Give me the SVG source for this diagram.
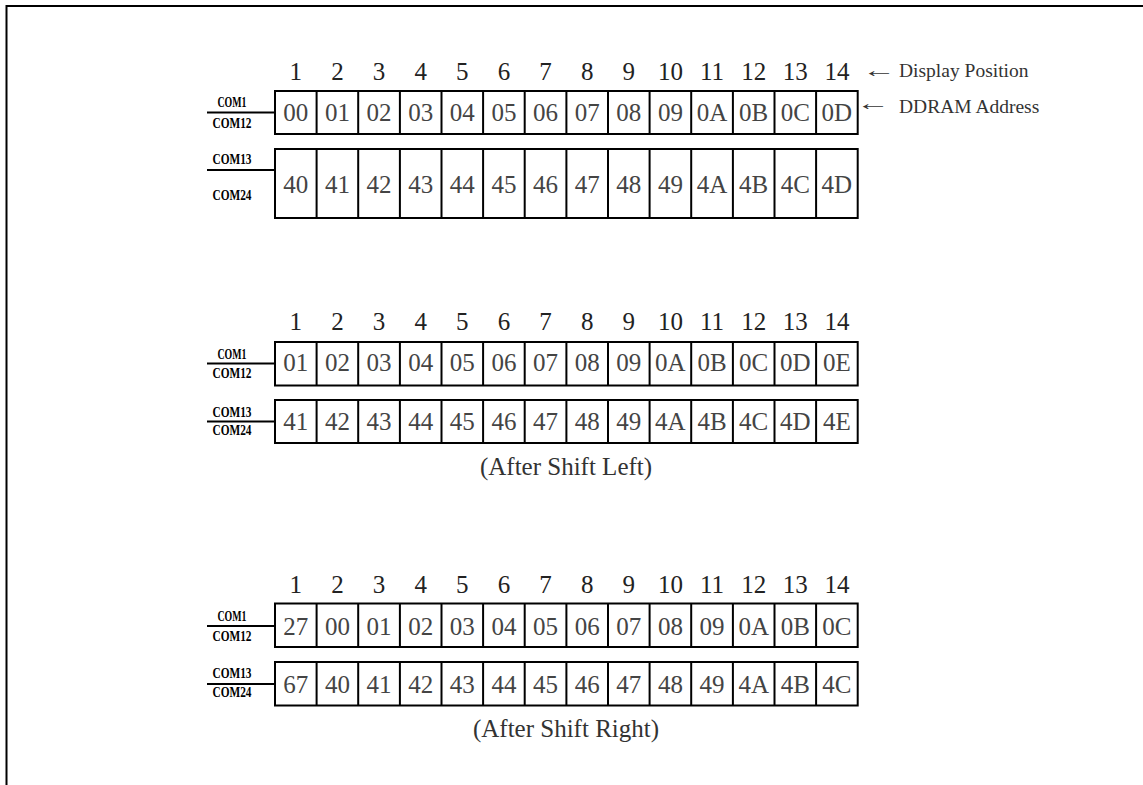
<svg xmlns="http://www.w3.org/2000/svg" width="1143" height="785" viewBox="0 0 1143 785">
<style>
.frame{stroke:#000;stroke-width:2;fill:none}
.cell{fill:#fff;stroke:#000;stroke-width:2}
.sep{stroke:#000;stroke-width:2}
.wire{stroke:#000;stroke-width:2}
.hdr{font-family:"Liberation Serif","Times New Roman",serif;font-size:25px;fill:#222;text-anchor:middle}
.val{font-family:"Liberation Serif","Times New Roman",serif;font-size:25px;fill:#444;text-anchor:middle}
.com{font-family:"Liberation Serif","Times New Roman",serif;font-size:15px;font-weight:bold;fill:#000;text-anchor:middle}
.note{font-family:"Liberation Serif","Times New Roman",serif;font-size:19.5px;fill:#333}
.arr{font-family:"Liberation Serif","Times New Roman",serif;font-size:20px;fill:#333}
.cap{font-family:"Liberation Serif","Times New Roman",serif;font-size:25px;fill:#333;text-anchor:middle}
</style>
<rect width="1143" height="785" fill="#fff"/>
<path class="frame" d="M6.5 785 V6 H1143"/>

<g id="connectors">
<line class="wire" x1="207" y1="112.5" x2="275" y2="112.5"/>
<line class="wire" x1="207" y1="170" x2="275" y2="170"/>
<line class="wire" x1="207" y1="363.5" x2="275" y2="363.5"/>
<line class="wire" x1="207" y1="421.5" x2="275" y2="421.5"/>
<line class="wire" x1="207" y1="626" x2="275" y2="626"/>
<line class="wire" x1="207" y1="684" x2="275" y2="684"/>
</g>

<!-- Section 1 -->
<g id="hdr1" class="hdr">
<text x="295.8" y="80">1</text><text x="337.4" y="80">2</text><text x="379.1" y="80">3</text><text x="420.7" y="80">4</text><text x="462.3" y="80">5</text><text x="503.9" y="80">6</text><text x="545.6" y="80">7</text><text x="587.2" y="80">8</text><text x="628.8" y="80">9</text><text x="670.4" y="80">10</text><text x="712.1" y="80">11</text><text x="753.7" y="80">12</text><text x="795.3" y="80">13</text><text x="836.9" y="80">14</text>
</g>
<g id="note-display">
<text class="arr" transform="translate(862,77) scale(1.7,1)">←</text>
<text class="note" x="899" y="77">Display Position</text>
</g>
<g id="note-ddram">
<text class="arr" transform="translate(856,110) scale(1.7,1)">←</text>
<text class="note" x="899" y="113">DDRAM Address</text>
</g>
<g id="label1a"><text class="com" x="232" y="107" textLength="29" lengthAdjust="spacingAndGlyphs">COM1</text><text class="com" x="232" y="128" textLength="39" lengthAdjust="spacingAndGlyphs">COM12</text></g>
<g id="label1b"><text class="com" x="232" y="164" textLength="39" lengthAdjust="spacingAndGlyphs">COM13</text><text class="com" x="232" y="200" textLength="39" lengthAdjust="spacingAndGlyphs">COM24</text></g>
<g id="row1a">
<rect class="cell" x="275" y="91" width="582.7" height="43"/>
<path class="sep" d="M316.6 91V134M358.2 91V134M399.9 91V134M441.5 91V134M483.1 91V134M524.7 91V134M566.4 91V134M608 91V134M649.6 91V134M691.2 91V134M732.9 91V134M774.5 91V134M816.1 91V134"/>
<g class="val"><text x="295.8" y="121">00</text><text x="337.4" y="121">01</text><text x="379.1" y="121">02</text><text x="420.7" y="121">03</text><text x="462.3" y="121">04</text><text x="503.9" y="121">05</text><text x="545.6" y="121">06</text><text x="587.2" y="121">07</text><text x="628.8" y="121">08</text><text x="670.4" y="121">09</text><text x="712.1" y="121">0A</text><text x="753.7" y="121">0B</text><text x="795.3" y="121">0C</text><text x="836.9" y="121">0D</text></g>
</g>
<g id="row1b">
<rect class="cell" x="275" y="149" width="582.7" height="69"/>
<path class="sep" d="M316.6 149V218M358.2 149V218M399.9 149V218M441.5 149V218M483.1 149V218M524.7 149V218M566.4 149V218M608 149V218M649.6 149V218M691.2 149V218M732.9 149V218M774.5 149V218M816.1 149V218"/>
<g class="val"><text x="295.8" y="192.5">40</text><text x="337.4" y="192.5">41</text><text x="379.1" y="192.5">42</text><text x="420.7" y="192.5">43</text><text x="462.3" y="192.5">44</text><text x="503.9" y="192.5">45</text><text x="545.6" y="192.5">46</text><text x="587.2" y="192.5">47</text><text x="628.8" y="192.5">48</text><text x="670.4" y="192.5">49</text><text x="712.1" y="192.5">4A</text><text x="753.7" y="192.5">4B</text><text x="795.3" y="192.5">4C</text><text x="836.9" y="192.5">4D</text></g>
</g>

<!-- Section 2 -->
<g id="hdr2" class="hdr">
<text x="295.8" y="330">1</text><text x="337.4" y="330">2</text><text x="379.1" y="330">3</text><text x="420.7" y="330">4</text><text x="462.3" y="330">5</text><text x="503.9" y="330">6</text><text x="545.6" y="330">7</text><text x="587.2" y="330">8</text><text x="628.8" y="330">9</text><text x="670.4" y="330">10</text><text x="712.1" y="330">11</text><text x="753.7" y="330">12</text><text x="795.3" y="330">13</text><text x="836.9" y="330">14</text>
</g>
<g id="label2a"><text class="com" x="232" y="359" textLength="29" lengthAdjust="spacingAndGlyphs">COM1</text><text class="com" x="232" y="378" textLength="39" lengthAdjust="spacingAndGlyphs">COM12</text></g>
<g id="label2b"><text class="com" x="232" y="417" textLength="39" lengthAdjust="spacingAndGlyphs">COM13</text><text class="com" x="232" y="435" textLength="39" lengthAdjust="spacingAndGlyphs">COM24</text></g>
<g id="row2a">
<rect class="cell" x="275" y="342" width="582.7" height="43.5"/>
<path class="sep" d="M316.6 342V385.5M358.2 342V385.5M399.9 342V385.5M441.5 342V385.5M483.1 342V385.5M524.7 342V385.5M566.4 342V385.5M608 342V385.5M649.6 342V385.5M691.2 342V385.5M732.9 342V385.5M774.5 342V385.5M816.1 342V385.5"/>
<g class="val"><text x="295.8" y="371">01</text><text x="337.4" y="371">02</text><text x="379.1" y="371">03</text><text x="420.7" y="371">04</text><text x="462.3" y="371">05</text><text x="503.9" y="371">06</text><text x="545.6" y="371">07</text><text x="587.2" y="371">08</text><text x="628.8" y="371">09</text><text x="670.4" y="371">0A</text><text x="712.1" y="371">0B</text><text x="753.7" y="371">0C</text><text x="795.3" y="371">0D</text><text x="836.9" y="371">0E</text></g>
</g>
<g id="row2b">
<rect class="cell" x="275" y="400" width="582.7" height="43"/>
<path class="sep" d="M316.6 400V443M358.2 400V443M399.9 400V443M441.5 400V443M483.1 400V443M524.7 400V443M566.4 400V443M608 400V443M649.6 400V443M691.2 400V443M732.9 400V443M774.5 400V443M816.1 400V443"/>
<g class="val"><text x="295.8" y="430">41</text><text x="337.4" y="430">42</text><text x="379.1" y="430">43</text><text x="420.7" y="430">44</text><text x="462.3" y="430">45</text><text x="503.9" y="430">46</text><text x="545.6" y="430">47</text><text x="587.2" y="430">48</text><text x="628.8" y="430">49</text><text x="670.4" y="430">4A</text><text x="712.1" y="430">4B</text><text x="753.7" y="430">4C</text><text x="795.3" y="430">4D</text><text x="836.9" y="430">4E</text></g>
</g>
<g id="caption-left"><text class="cap" x="566" y="475">(After Shift Left)</text></g>

<!-- Section 3 -->
<g id="hdr3" class="hdr">
<text x="295.8" y="593">1</text><text x="337.4" y="593">2</text><text x="379.1" y="593">3</text><text x="420.7" y="593">4</text><text x="462.3" y="593">5</text><text x="503.9" y="593">6</text><text x="545.6" y="593">7</text><text x="587.2" y="593">8</text><text x="628.8" y="593">9</text><text x="670.4" y="593">10</text><text x="712.1" y="593">11</text><text x="753.7" y="593">12</text><text x="795.3" y="593">13</text><text x="836.9" y="593">14</text>
</g>
<g id="label3a"><text class="com" x="232" y="621" textLength="29" lengthAdjust="spacingAndGlyphs">COM1</text><text class="com" x="232" y="641" textLength="39" lengthAdjust="spacingAndGlyphs">COM12</text></g>
<g id="label3b"><text class="com" x="232" y="678" textLength="39" lengthAdjust="spacingAndGlyphs">COM13</text><text class="com" x="232" y="697" textLength="39" lengthAdjust="spacingAndGlyphs">COM24</text></g>
<g id="row3a">
<rect class="cell" x="275" y="603.5" width="582.7" height="43.5"/>
<path class="sep" d="M316.6 603.5V647M358.2 603.5V647M399.9 603.5V647M441.5 603.5V647M483.1 603.5V647M524.7 603.5V647M566.4 603.5V647M608 603.5V647M649.6 603.5V647M691.2 603.5V647M732.9 603.5V647M774.5 603.5V647M816.1 603.5V647"/>
<g class="val"><text x="295.8" y="634.5">27</text><text x="337.4" y="634.5">00</text><text x="379.1" y="634.5">01</text><text x="420.7" y="634.5">02</text><text x="462.3" y="634.5">03</text><text x="503.9" y="634.5">04</text><text x="545.6" y="634.5">05</text><text x="587.2" y="634.5">06</text><text x="628.8" y="634.5">07</text><text x="670.4" y="634.5">08</text><text x="712.1" y="634.5">09</text><text x="753.7" y="634.5">0A</text><text x="795.3" y="634.5">0B</text><text x="836.9" y="634.5">0C</text></g>
</g>
<g id="row3b">
<rect class="cell" x="275" y="662" width="582.7" height="43.5"/>
<path class="sep" d="M316.6 662V705.5M358.2 662V705.5M399.9 662V705.5M441.5 662V705.5M483.1 662V705.5M524.7 662V705.5M566.4 662V705.5M608 662V705.5M649.6 662V705.5M691.2 662V705.5M732.9 662V705.5M774.5 662V705.5M816.1 662V705.5"/>
<g class="val"><text x="295.8" y="692.5">67</text><text x="337.4" y="692.5">40</text><text x="379.1" y="692.5">41</text><text x="420.7" y="692.5">42</text><text x="462.3" y="692.5">43</text><text x="503.9" y="692.5">44</text><text x="545.6" y="692.5">45</text><text x="587.2" y="692.5">46</text><text x="628.8" y="692.5">47</text><text x="670.4" y="692.5">48</text><text x="712.1" y="692.5">49</text><text x="753.7" y="692.5">4A</text><text x="795.3" y="692.5">4B</text><text x="836.9" y="692.5">4C</text></g>
</g>
<g id="caption-right"><text class="cap" x="566" y="737">(After Shift Right)</text></g>
</svg>
